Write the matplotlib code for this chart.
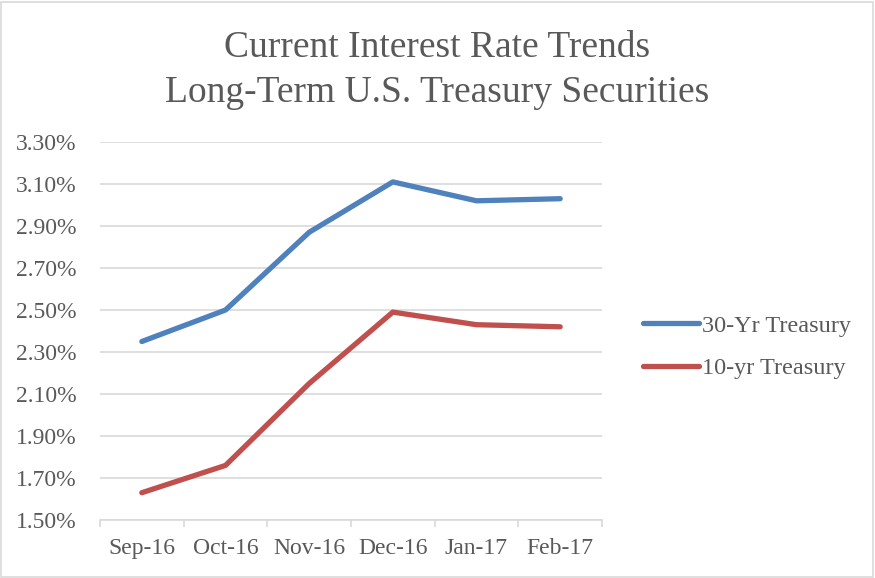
import matplotlib
matplotlib.use("Agg")
import matplotlib.pyplot as plt
from matplotlib.patches import Rectangle
from matplotlib.ticker import FuncFormatter, FixedLocator

months = ["Sep-16", "Oct-16", "Nov-16", "Dec-16", "Jan-17", "Feb-17"]
yr30 = [2.35, 2.50, 2.87, 3.11, 3.02, 3.03]
yr10 = [1.63, 1.76, 2.15, 2.49, 2.43, 2.42]
yticks = [1.50, 1.70, 1.90, 2.10, 2.30, 2.50, 2.70, 2.90, 3.10, 3.30]

plt.rcParams['font.family'] = ['Liberation Serif', 'DejaVu Serif']

fig = plt.figure(figsize=(8.75, 5.78), dpi=100)
ax = fig.add_axes([100/875, 1-520/578, 502/875, 378/578])

x = list(range(len(months)))
ax.plot(x, yr30, color="#4f81bd", lw=3.8, solid_capstyle="round", solid_joinstyle="round", label="30-Yr Treasury")
ax.plot(x, yr10, color="#c0504d", lw=3.8, solid_capstyle="round", solid_joinstyle="round", label="10-yr Treasury")

ax.set_xlim(-0.5, len(months) - 0.5)
ax.set_ylim(yticks[0], yticks[-1])
ax.set_yticks(yticks)
ax.yaxis.set_major_formatter(FuncFormatter(lambda v, p: f"{v:.2f}%"))
ax.set_xticks(x)
ax.set_xticklabels(months)
ax.xaxis.set_minor_locator(FixedLocator([i - 0.5 for i in range(len(months) + 1)]))

ax.grid(axis="y", color="#d9d9d9", lw=1.2)
ax.set_axisbelow(True)
for s in ["top", "right", "left"]:
    ax.spines[s].set_visible(False)
ax.spines["bottom"].set_color("#d9d9d9")
ax.spines["bottom"].set_linewidth(1.2)
ax.tick_params(axis="y", length=0, labelsize=17, labelcolor="#595959", pad=17)
ax.tick_params(axis="x", which="major", length=0, labelsize=17, labelcolor="#595959", pad=13)
ax.tick_params(axis="x", which="minor", length=5, color="#d9d9d9", width=1.2)

fig.text(437/875, 1-48/578, "Current Interest Rate Trends", ha="center", va="center", fontsize=27, color="#595959")
fig.text(437/875, 1-93/578, "Long-Term U.S. Treasury Securities", ha="center", va="center", fontsize=27, color="#595959")

leg = fig.legend(loc="center left", bbox_to_anchor=(621/875, 1-347/578), frameon=False, fontsize=17.5,
                 handlelength=2.3, handletextpad=0.15, labelspacing=0.85, labelcolor="#595959")

fig.patches.append(Rectangle((1/875, 1/578), 872/875, 575/578, transform=fig.transFigure,
                             fill=False, edgecolor="#d9d9d9", lw=1.2))

fig.savefig("out.png", dpi=100)
